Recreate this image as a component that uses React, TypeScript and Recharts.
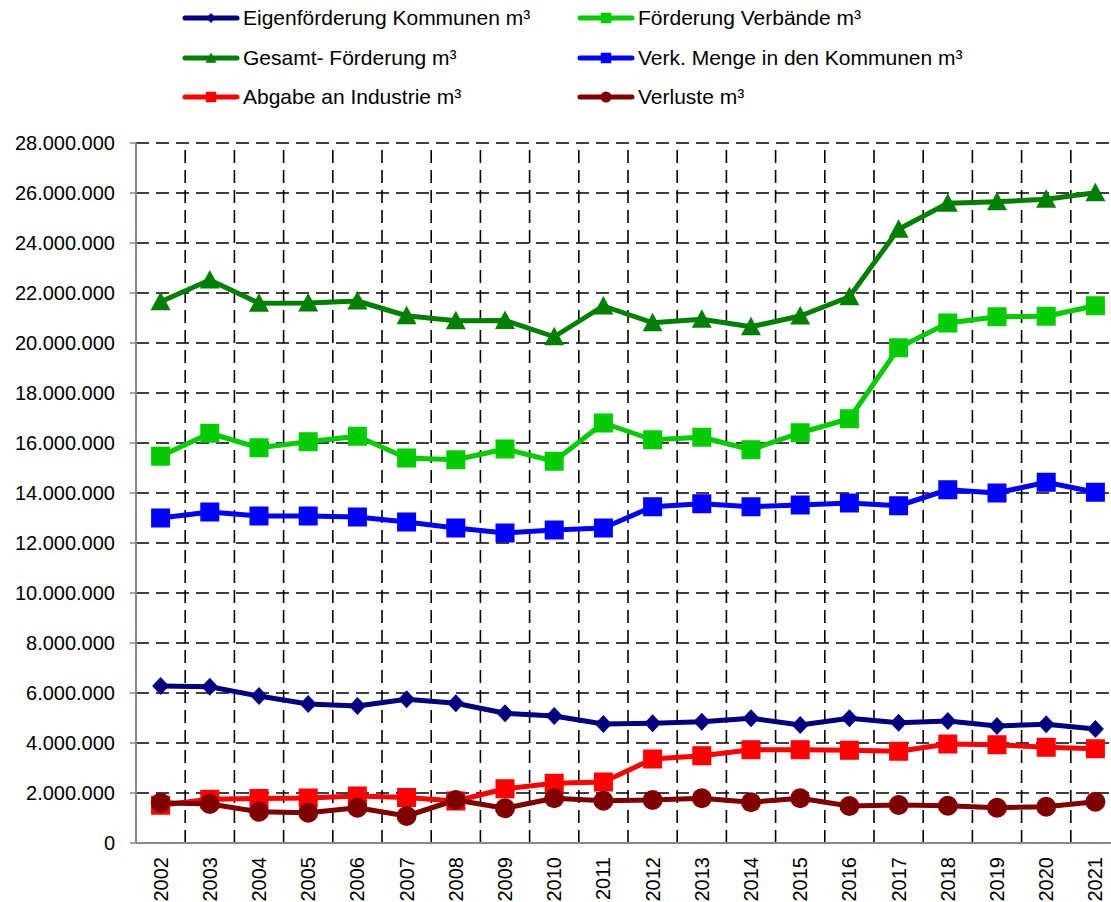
import React from 'react';
import { LineChart, Line, XAxis, YAxis, CartesianGrid, ReferenceLine } from 'recharts';

const years = ['2002','2003','2004','2005','2006','2007','2008','2009','2010','2011','2012','2013','2014','2015','2016','2017','2018','2019','2020','2021'];

const eigenfoerderung = [6280000,6250000,5880000,5560000,5480000,5750000,5590000,5190000,5080000,4760000,4790000,4850000,4990000,4720000,4990000,4810000,4880000,4680000,4750000,4560000];
const verbaende = [15470000,16390000,15810000,16050000,16270000,15400000,15330000,15760000,15270000,16800000,16130000,16230000,15730000,16410000,16970000,19810000,20800000,21050000,21070000,21490000];
const gesamt = [21650000,22520000,21590000,21600000,21680000,21090000,20890000,20900000,20250000,21480000,20810000,20950000,20650000,21080000,21850000,24550000,25590000,25650000,25750000,26010000];
const verkMenge = [13000000,13240000,13080000,13080000,13040000,12840000,12600000,12400000,12520000,12600000,13450000,13570000,13450000,13520000,13600000,13490000,14130000,14000000,14430000,14030000];
const abgabe = [1510000,1750000,1780000,1800000,1880000,1820000,1680000,2170000,2390000,2440000,3360000,3490000,3730000,3730000,3710000,3670000,3960000,3930000,3830000,3770000];
const verluste = [1610000,1560000,1250000,1210000,1410000,1080000,1720000,1390000,1790000,1690000,1720000,1790000,1630000,1790000,1480000,1520000,1490000,1410000,1450000,1650000];

const yTicks = [0,2000000,4000000,6000000,8000000,10000000,12000000,14000000,16000000,18000000,20000000,22000000,24000000,26000000,28000000];

const seriesNames = ['Eigenförderung Kommunen m³','Förderung Verbände m³','Gesamt- Förderung m³','Verk. Menge in den Kommunen m³','Abgabe an Industrie m³','Verluste m³'];
const seriesKeys = ['eigen','verb','gesamt','verk','abgabe','verluste'];
const seriesColors = ['#000080','#00CC00','#008000','#0000FF','#FF0000','#800000'];
const seriesShapes = ['diamond','square','triangle','square','square','circle'];

const data = years.map((y, i) => ({
  idx: i,
  year: y,
  eigen: eigenfoerderung[i],
  verb: verbaende[i],
  gesamt: gesamt[i],
  verk: verkMenge[i],
  abgabe: abgabe[i],
  verluste: verluste[i],
}));

const idxTicks = years.map((_, i) => i);
const bounds = years.map((_, i) => i + 0.5);
const allBounds = [-0.5, ...bounds];

const fmt = (v: number) => String(Math.round(v)).replace(/\B(?=(\d{3})+(?!\d))/g, '.');

function marker(shape: string, color: string, cx: number, cy: number, s: number, key?: string) {
  if (shape === 'diamond') {
    return <polygon key={key} points={`${cx},${cy - 9 * s} ${cx + 8.5 * s},${cy} ${cx},${cy + 9 * s} ${cx - 8.5 * s},${cy}`} fill={color} />;
  }
  if (shape === 'square') {
    return <rect key={key} x={cx - 9.5 * s} y={cy - 9.5 * s} width={19 * s} height={19 * s} fill={color} />;
  }
  if (shape === 'triangle') {
    return <polygon key={key} points={`${cx},${cy - 10 * s} ${cx + 10 * s},${cy + 8.5 * s} ${cx - 10 * s},${cy + 8.5 * s}`} fill={color} />;
  }
  return <circle key={key} cx={cx} cy={cy} r={10 * s} fill={color} />;
}

const makeDot = (shape: string, color: string) => (props: any) => {
  const { cx, cy, index } = props;
  if (cx == null || cy == null) return <g key={`e-${index}`} />;
  return marker(shape, color, cx, cy, 1, `${shape}-${index}`);
};

const XTick = (props: any) => {
  const { x, y, payload } = props;
  return (
    <text x={x} y={y} transform={`rotate(-90 ${x} ${y})`} textAnchor="end" dominantBaseline="central" fontSize={20} fill="#000" fontFamily="'Liberation Sans', Arial, sans-serif">
      {years[payload.value]}
    </text>
  );
};

const legendPos = [
  { left: 180, top: 18 },
  { left: 575, top: 18 },
  { left: 180, top: 57.5 },
  { left: 575, top: 57.5 },
  { left: 180, top: 97 },
  { left: 575, top: 97 },
];

export default function App() {
  return (
    <div style={{ position: 'absolute', left: 0, top: 0, width: 1111, height: 902, overflow: 'hidden', background: '#fff', fontFamily: "'Liberation Sans', Arial, sans-serif" }}>
      {seriesNames.map((name, i) => (
        <div key={name} style={{ position: 'absolute', left: legendPos[i].left, top: legendPos[i].top - 20, height: 40, display: 'flex', alignItems: 'center', whiteSpace: 'nowrap' }}>
          <svg width={62} height={40} style={{ display: 'block' }}>
            <line x1={5} y1={20} x2={57} y2={20} stroke={seriesColors[i]} strokeWidth={5} strokeLinecap="round" />
            {marker(seriesShapes[i], seriesColors[i], 31, 20, 0.55)}
          </svg>
          <span style={{ fontSize: 21, color: '#000', marginLeft: 1 }}>{name}</span>
        </div>
      ))}
      <div style={{ position: 'absolute', left: 0, top: 0 }}>
        <LineChart width={1125} height={902} data={data} margin={{ top: 143, right: 5, bottom: 0, left: 0 }}>
          <CartesianGrid vertical={false} stroke="#000" strokeWidth={1.6} strokeDasharray="13 7" />
          <XAxis xAxisId="g" dataKey="idx" type="number" domain={[-0.5, 19.5]} ticks={allBounds} height={0} axisLine={false} tickLine={{ stroke: '#888', strokeWidth: 1.5 }} tickSize={7} tick={() => <g />} interval={0} />
          <XAxis dataKey="idx" type="number" domain={[-0.5, 19.5]} ticks={idxTicks} height={59} axisLine={{ stroke: '#888', strokeWidth: 2 }} tickLine={false} tickSize={6} tickMargin={8} tick={<XTick />} interval={0} />
          <YAxis domain={[0, 28000000]} ticks={yTicks} width={136} axisLine={{ stroke: '#888', strokeWidth: 2 }} tickLine={{ stroke: '#888', strokeWidth: 1.5 }} tickSize={6} tickMargin={15} tickFormatter={fmt} tick={{ fontSize: 20, fill: '#000', fontFamily: "'Liberation Sans', Arial, sans-serif" }} interval={0} />
          {bounds.slice(0, 19).map((b) => (
            <ReferenceLine key={b} x={b} stroke="#000" strokeWidth={1.6} strokeDasharray="13 7" />
          ))}
          {seriesKeys.map((k, i) => (
            <Line key={k} dataKey={k} name={seriesNames[i]} type="linear" stroke={seriesColors[i]} strokeWidth={5} strokeLinejoin="round" dot={makeDot(seriesShapes[i], seriesColors[i])} activeDot={false} isAnimationActive={false} />
          ))}
        </LineChart>
      </div>
    </div>
  );
}
